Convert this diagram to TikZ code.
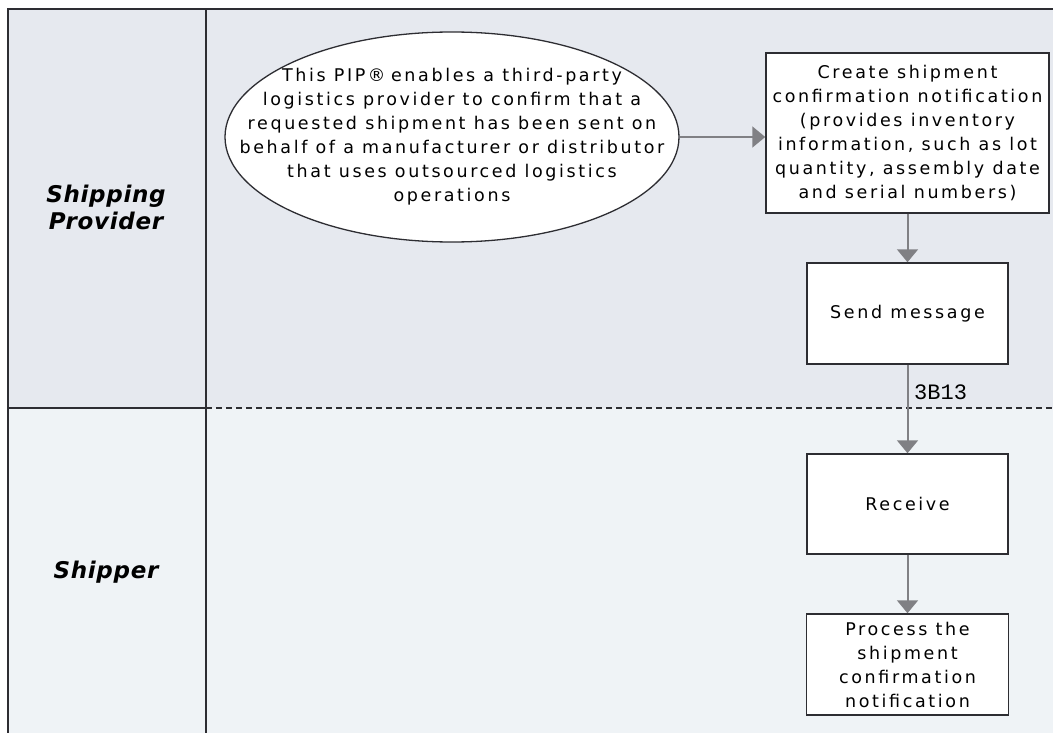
\documentclass[tikz,border=0pt]{standalone}
\usepackage{fontspec}
\setmainfont{DejaVu Sans}
\newfontfamily\vfont[LetterSpace=15]{DejaVu Sans}
\newfontfamily\lanefont[LetterSpace=3]{DejaVu Sans}
\newfontfamily\monofont{Liberation Mono}
\usetikzlibrary{shapes.geometric,arrows.meta}
\definecolor{lanetop}{RGB}{230,233,239}
\definecolor{lanebot}{RGB}{239,243,246}
\definecolor{frame}{RGB}{45,45,50}
\definecolor{arrowgray}{RGB}{128,128,132}
\tikzset{
  boxtext/.style={font=\vfont\fontsize{17.5}{24}\selectfont, align=center},
  stepbox/.style={draw=frame, line width=1.5pt, fill=white, rectangle, inner sep=0pt, boxtext},
  pipshape/.style={draw=frame, line width=1.3pt, fill=white, ellipse, inner sep=0pt},
  flow/.style={draw=arrowgray, line width=2pt, -{Triangle[width=21pt,length=13pt]}},
  lanelabel/.style={font=\lanefont\bfseries\itshape\fontsize{23}{27}\selectfont, align=center},
  frameline/.style={draw=frame, line width=2pt},
}
\begin{document}
\begin{tikzpicture}[x=1pt,y=-1pt]
\useasboundingbox (0,0) rectangle (1053,733);
\fill[white] (0,0) rectangle (1053,733);
% lanes
\fill[lanetop] (8,9) rectangle (1053,408);
\fill[lanebot] (8,408) rectangle (1053,733);
% frame
\draw[frameline] (1053,9) -- (8,9) -- (8,733);
\draw[frameline] (206,9) -- (206,733);
\draw[frameline] (8,408) -- (206,408);
\draw[frameline, line width=1.6pt, dash pattern=on 6pt off 4pt] (206,408) -- (1053,408);
% lane labels
\node[lanelabel] (lane1) at (106,207) {Shipping\\Provider};
\node[lanelabel] (lane2) at (106,572) {Shipper};
% ellipse
\node[pipshape, minimum width=454pt, minimum height=210pt] (pip) at (452,137) {};
\node[boxtext] (piptext) at (pip.center) {This PIP®\hspace{-2.6pt} enables a third-party\\logistics provider to confirm that a\\requested shipment has been sent on\\behalf of a manufacturer or distributor\\that uses outsourced logistics\\operations};
% boxes
\node[stepbox, minimum width=283pt, minimum height=160pt] (create) at (907.5,133) {Create shipment\\confirmation notification\\(provides inventory\\information, such as lot\\quantity, assembly date\\and serial numbers)};
\node[stepbox, minimum width=201pt, minimum height=101pt] (send) at (907.5,313.5) {Send message};
\node[stepbox, minimum width=201pt, minimum height=100pt] (receive) at (907.5,504) {Receive};
\node[stepbox, minimum width=202pt, minimum height=101pt] (process) at (907.5,664.5) {Process the\\shipment\\confirmation\\notification};
% connectors
\draw[flow] (pip.east) -- (pip.east -| create.west);
\draw[flow] (create.south) -- (send.north);
\draw[flow] (send.south) -- (receive.north);
\draw[flow] (receive.south) -- (process.north);
\node[anchor=west, inner sep=0pt, font=\monofont\fontsize{22}{26}\selectfont] (code) at (914,392) {3B13};
\end{tikzpicture}
\end{document}
